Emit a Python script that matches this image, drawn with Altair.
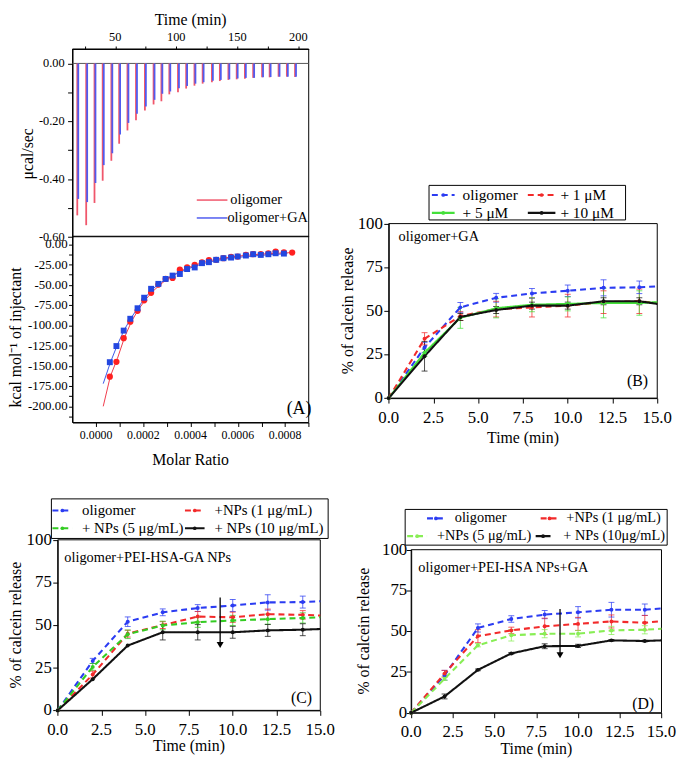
import altair as alt
import pandas as pd

FONT = "Liberation Serif"
W, H = 677, 750

# ---------------- Panel A (top): raw ITC heats ----------------
itc_series = ["oligomer", "oligomer+GA"]
itc_colors = ["#f0566b", "#4f5cf0"]
inj_time_olig = [18.9, 26.2, 33.0, 39.7, 46.8, 53.2, 60.0, 67.0, 74.3, 81.4, 87.8, 94.3, 101.4, 108.1,
                 114.9, 121.6, 129.2, 135.7, 142.7, 149.5, 156.2, 163.0, 170.3, 176.5, 183.8, 190.6, 197.3]
inj_peak_olig = [-0.526, -0.560, -0.483, -0.406, -0.337, -0.278, -0.232, -0.197, -0.163, -0.142, -0.131,
                 -0.107, -0.100, -0.087, -0.077, -0.070, -0.065, -0.061, -0.057, -0.055, -0.053, -0.050,
                 -0.048, -0.048, -0.046, -0.046, -0.047]
inj_time_ga = [19.7, 27.0, 33.8, 40.6, 47.6, 54.0, 60.8, 67.8, 75.1, 82.2, 88.6, 95.1, 102.2, 108.9,
               115.7, 122.4, 130.0, 136.5, 143.5, 150.3, 157.0, 163.8, 171.1, 177.3, 184.6, 191.4, 198.1]
inj_peak_ga = [-0.469, -0.480, -0.414, -0.352, -0.311, -0.246, -0.206, -0.174, -0.149, -0.126, -0.105,
               -0.097, -0.086, -0.078, -0.070, -0.065, -0.060, -0.057, -0.055, -0.052, -0.050, -0.050,
               -0.048, -0.047, -0.046, -0.046, -0.046]
atop_xdom = [15, 208.5]
atop_ydom = [-0.6, 0.05]
atop_xticks = [25, 50, 75, 100, 125, 150, 175, 200]
atop_yticks = [-0.6, -0.5, -0.4, -0.3, -0.2, -0.1, 0.0]
atop_xlabel_at = [50, 100, 150, 200]
atop_xlabels = ["50", "100", "150", "200"]
atop_ylabel_at = [0.0, -0.2, -0.4, -0.6]
atop_ylabels = ["0.00", "-0.20", "-0.40", "-0.60"]

# ---------------- Panel A (bottom): integrated heats ----------------
ratio_olig = [0.0000579, 0.0000859, 0.0001166, 0.0001446, 0.0001754, 0.0002034, 0.0002327, 0.0002635,
              0.0002943, 0.0003236, 0.0003544, 0.0003852, 0.0004173, 0.0004481, 0.0004775, 0.0005083,
              0.000539, 0.0005712, 0.0005992, 0.0006341, 0.0006649, 0.0006971, 0.0007292, 0.0007600,
              0.0007950, 0.0008300]
heat_olig = [-163.4, -145.1, -115.9, -95.5, -82.1, -69.1, -59.8, -49.6, -42.7, -41.5, -31.3, -28.5, -25.2,
             -22.4, -19.5, -19.1, -17.1, -15.4, -15.0, -13.0, -12.2, -12.2, -11.0, -8.9, -9.8, -10.2]
ratio_ga = [0.0000579, 0.0000859, 0.0001166, 0.0001446, 0.0001754, 0.0002034, 0.0002327, 0.0002635,
            0.0002943, 0.0003236, 0.0003544, 0.0003852, 0.0004173, 0.0004481, 0.0004775, 0.0005083,
            0.000539, 0.0005712, 0.0005992, 0.0006341, 0.0006649, 0.0006971, 0.0007292, 0.0007600,
            0.0007950]
heat_ga = [-145.5, -125.6, -106.5, -91.9, -78.9, -65.9, -54.9, -48.8, -42.7, -38.6, -36.6, -30.5, -28.5,
           -23.2, -22.0, -19.1, -17.1, -16.3, -15.0, -13.8, -12.2, -13.0, -12.2, -11.0, -11.4]
fit_ratio_olig = [0.00003, 0.00006, 0.00009, 0.00012, 0.00015, 0.00018, 0.00021, 0.00024, 0.00027,
                  0.0003, 0.00035, 0.0004, 0.00045, 0.0005, 0.00055, 0.0006, 0.0007, 0.00084]
fit_olig = [-200, -163, -141, -115, -95, -80, -68, -58, -50, -43, -34, -27.5, -22.5, -19, -16.5, -14.5,
            -12, -10]
fit_ratio_ga = [0.00003, 0.00006, 0.00009, 0.00012, 0.00015, 0.00018, 0.00021, 0.00024, 0.00027,
                0.0003, 0.00035, 0.0004, 0.00045, 0.0005, 0.00055, 0.0006, 0.0007, 0.00081]
fit_ga = [-172, -146, -124, -105, -90, -77, -65, -55, -48, -42, -35, -29, -24, -20.5, -18, -16, -13.5,
          -11.5]
abot_xdom = [-0.0001, 0.0009]
abot_ydom = [-220, 10]
abot_xticks = [0.0, 0.0001, 0.0002, 0.0003, 0.0004, 0.0005, 0.0006, 0.0007, 0.0008, 0.0009]
abot_yticks = [-212.5, -200, -187.5, -175, -162.5, -150, -137.5, -125, -112.5, -100, -87.5, -75,
               -62.5, -50, -37.5, -25, -12.5, 0]
abot_xlabel_at = [0.0, 0.0002, 0.0004, 0.0006, 0.0008]
abot_xlabels = ["0.0000", "0.0002", "0.0004", "0.0006", "0.0008"]
abot_ylabel_at = [0, -25, -50, -75, -100, -125, -150, -175, -200]
abot_ylabels = ["0.00", "-25.00", "-50.00", "-75.00", "-100.00", "-125.00", "-150.00", "-175.00",
                "-200.00"]

# ---------------- Panels B, C, D: calcein release ----------------
release_time = [0, 2, 4, 6, 8, 10, 12, 14, 15]
rel_xdom = [0, 15]
rel_ydom = [0, 100]
rel_xticks = [0, 2.5, 5, 7.5, 10, 12.5, 15]
rel_yticks = [0, 25, 50, 75, 100]
rel_xlabels = ["0.0", "2.5", "5.0", "7.5", "10.0", "12.5", "15.0"]
rel_ylabels = ["0", "25", "50", "75", "100"]

B_order = ["oligomer", "+ 1 μM", "+ 5 μM", "+ 10 μM"]
B_vals = {
    "oligomer": [0, 29, 52, 57.5, 60, 61.5, 63.2, 63.5, 64],
    "+ 1 μM": [0, 34, 47, 51, 52, 53, 55, 55.5, 54.5],
    "+ 5 μM": [0, 26, 46, 51.5, 53.5, 54, 54.5, 54.5, 55],
    "+ 10 μM": [0, 24, 46.5, 50.5, 53, 53, 55.5, 55.5, 54],
}
B_errs = {
    "oligomer": [0, 2.8, 2.8, 2.5, 2.8, 3.3, 4.6, 3.6, None],
    "+ 1 μM": [0, 3.5, 2.5, 4.5, 5.5, 6.5, 6.5, 7, None],
    "+ 5 μM": [0, 2, 6, 5.5, 4, 4, 8.5, 7, None],
    "+ 10 μM": [0, 8.5, 2, 2, 2, 2, 2, 2, None],
}
B_colors = ["#2b3cf2", "#f22a2a", "#44e03a", "#111111"]
B_dashes = [[6, 4], [6, 4], [1, 0], [1, 0]]

C_order = ["oligomer", "+NPs (1 μg/mL)", "+ NPs (5 μg/mL)", "+ NPs (10 μg/mL)"]
C_vals = {
    "oligomer": [0, 29, 52, 57.5, 60, 61.5, 63.3, 63.5, 64],
    "+NPs (1 μg/mL)": [0, 21, 45, 50, 55, 54.6, 56.4, 56, 55.6],
    "+ NPs (5 μg/mL)": [0, 25.5, 44.6, 49.8, 51.7, 52.7, 53.5, 54.2, 54.6],
    "+ NPs (10 μg/mL)": [0, 18.3, 38, 45.8, 45.8, 45.8, 46.9, 47.3, 47.7],
}
C_errs = {
    "oligomer": [0, 1.5, 2.8, 2, 2, 3.5, 4.5, 3.5, None],
    "+NPs (1 μg/mL)": [0, 2, 2, 2, 3, 3, 3, 2.5, None],
    "+ NPs (5 μg/mL)": [0, 2, 2.5, 2.5, 3, 3, 3, 3, None],
    "+ NPs (10 μg/mL)": [0, None, None, 4.5, 4.5, 3.5, 3.5, 3.5, None],
}
C_colors = ["#2b3cf2", "#f22a2a", "#33cc22", "#111111"]
C_dashes = [[6, 4], [6, 4], [6, 4], [1, 0]]

D_order = ["oligomer", "+NPs (1 μg/mL)", "+NPs (5 μg/mL)", "+ NPs (10μg/mL)"]
D_vals = {
    "oligomer": [0, 23, 52, 57.5, 60.2, 61.6, 63.2, 63.2, 64],
    "+NPs (1 μg/mL)": [0, 24, 47, 50.5, 53, 54.5, 56, 55.2, 56.2],
    "+NPs (5 μg/mL)": [0, 20.8, 41.4, 47.5, 48.5, 48.5, 50.5, 50.9, 51.5],
    "+ NPs (10μg/mL)": [0, 10, 26.3, 36.4, 40.8, 41, 44.4, 44, 44.4],
}
D_errs = {
    "oligomer": [0, 3, 2.5, 2, 2.5, 3.5, 4.5, 3.5, None],
    "+NPs (1 μg/mL)": [0, 2, 4, 2, 5, 4, 4, 4.5, None],
    "+NPs (5 μg/mL)": [0, 1, 1, 3.5, 2.5, 2, 2.5, 2.5, None],
    "+ NPs (10μg/mL)": [0, 1.5, 0.5, 0.5, 1.5, 1, 0.5, 0.5, None],
}
D_colors = ["#2b3cf2", "#f22a2a", "#88ee55", "#111111"]
D_dashes = [[6, 4], [6, 4], [6, 4], [1, 0]]

# ---------------- layout (pixel ranges of each plot frame, legend placement) ----------------
A_XR = (65.3, 304.3)
ATOP_YR = (227, 37)
ABOT_YR = (415, 226.5)
B_XR, B_YR = (385.3, 657), (390.3, 213.7)
C_XR, C_YR = (50.3, 316), (706.3, 533.7)
D_XR, D_YR = (408, 661.3), (708.7, 543.7)

# legend entries in each panel's data units: (line start, line end, row, label start)
B_leg = dict(box=(2.25, 13.23, 102.1, 121.9), x0=[2.41, 7.77, 2.41, 7.77], x1=[3.68, 9.31, 3.68, 9.31],
             y=[116.4, 116.4, 106.1, 106.1], xl=[4.12, 9.59, 4.12, 9.59], size=15.5)
C_leg = dict(box=(-0.36, 15.45, 100.8, 124.0), x0=[-0.30, 7.27, -0.30, 7.27], x1=[0.83, 8.39, 0.83, 8.39],
             y=[117.2, 117.2, 106.8, 106.8], xl=[1.39, 8.96, 1.39, 8.96], size=15)
D_leg = dict(box=(-0.36, 15.34, 102.8, 124.7), x0=[0.95, 7.76, -0.24, 7.46], x1=[2.01, 8.82, 0.95, 8.35],
             y=[119.2, 119.2, 108.3, 108.3], xl=[2.61, 9.30, 1.54, 9.12], size=14.5)
A_leg = dict(x0=[116.8, 116.8], x1=[141.9, 141.9], y=[-0.473, -0.535], xl=[144.3, 141.9], size=14.5)


def scale(dom, rng):
    return alt.Scale(domain=list(dom), range=list(rng), nice=False, zero=False)


def axis(orient, offset, values, tick=5):
    return alt.Axis(orient=orient, offset=offset, values=values, labels=False, labelExpr="''",
                    title=None, grid=False, tickSize=tick, domainColor="black", tickColor="black")


def frame(xs, ys, xdom, ydom, width=1):
    df = pd.DataFrame({"x0": [xdom[0]], "x1": [xdom[1]], "y0": [ydom[0]], "y1": [ydom[1]]})
    return alt.Chart(df).mark_rect(fillOpacity=0, stroke="black", strokeWidth=width).encode(
        x=alt.X("x0:Q", scale=xs, axis=None), x2="x1:Q",
        y=alt.Y("y0:Q", scale=ys, axis=None), y2="y1:Q")


def texts(xs, ys, xv, yv, labels, size, align="center", baseline="middle", dx=0, dy=0, angle=0):
    df = pd.DataFrame({"x": list(xv), "y": list(yv), "label": list(labels)})
    return alt.Chart(df).mark_text(align=align, baseline=baseline, fontSize=size, font=FONT,
                                   color="black", dx=dx, dy=dy, angle=angle).encode(
        x=alt.X("x:Q", scale=xs, axis=None), y=alt.Y("y:Q", scale=ys, axis=None), text="label:N")


units = []

# ---------------- Panel A top ----------------
xs_at = scale(atop_xdom, A_XR)
ys_at = scale(atop_ydom, ATOP_YR)
df_inj = pd.DataFrame({
    "series": [itc_series[0]] * len(inj_time_olig) + [itc_series[1]] * len(inj_time_ga),
    "t": inj_time_olig + inj_time_ga,
    "peak": inj_peak_olig + inj_peak_ga,
})
itc_cs = alt.Scale(domain=itc_series, range=itc_colors)
baseline = alt.Chart(pd.DataFrame({"x0": [atop_xdom[0]], "x1": [atop_xdom[1]], "y": [0.0]})).mark_rule(
    color="#555555", strokeWidth=1).encode(
    x=alt.X("x0:Q", scale=xs_at, axis=None), x2="x1:Q", y=alt.Y("y:Q", scale=ys_at, axis=None))
spikes = alt.Chart(df_inj).transform_calculate(base="0").mark_rule(strokeWidth=1.8).encode(
    x=alt.X("t:Q", scale=xs_at, axis=axis("top", -ATOP_YR[1], atop_xticks, 3)),
    y=alt.Y("base:Q", scale=ys_at, axis=axis("left", -A_XR[0], atop_yticks, 5)),
    y2="peak:Q",
    color=alt.Color("series:N", scale=itc_cs, legend=None),
)
a_leg_df = pd.DataFrame({"series": itc_series, "x0": A_leg["x0"], "x1": A_leg["x1"], "y": A_leg["y"],
                         "xl": A_leg["xl"]})
a_leg_lines = alt.Chart(a_leg_df).mark_rule(strokeWidth=1.5).encode(
    x=alt.X("x0:Q", scale=xs_at, axis=None), x2="x1:Q", y=alt.Y("y:Q", scale=ys_at, axis=None),
    color=alt.Color("series:N", scale=itc_cs, legend=None))
units += [frame(xs_at, ys_at, atop_xdom, atop_ydom), baseline, spikes, a_leg_lines,
          texts(xs_at, ys_at, A_leg["xl"], A_leg["y"], itc_series, A_leg["size"], align="left"),
          texts(xs_at, ys_at, atop_xlabel_at, [atop_ydom[1]] * 4, atop_xlabels, 12.5, dy=-12),
          texts(xs_at, ys_at, [sum(atop_xdom) / 2], [atop_ydom[1]], ["Time (min)"], 16,
                baseline="top", dy=-37),
          texts(xs_at, ys_at, [atop_xdom[0]] * 4, atop_ylabel_at, atop_ylabels, 12.5, align="right",
                dx=-8),
          texts(xs_at, ys_at, [-21.4], [-0.313], ["μcal/sec"], 16, angle=270)]

# ---------------- Panel A bottom ----------------
xs_ab = scale(abot_xdom, A_XR)
ys_ab = scale(abot_ydom, ABOT_YR)
XA = alt.X("r:Q", scale=xs_ab, axis=None)
YA = alt.Y("h:Q", scale=ys_ab, axis=None)
fit_o = alt.Chart(pd.DataFrame({"r": fit_ratio_olig, "h": fit_olig})).mark_line(
    color="#f03a4a", strokeWidth=1).encode(
    x=alt.X("r:Q", scale=xs_ab, axis=axis("bottom", ABOT_YR[0] - H, abot_xticks, 4)),
    y=alt.Y("h:Q", scale=ys_ab, axis=axis("left", -A_XR[0], abot_yticks, 4)),
)
fit_g = alt.Chart(pd.DataFrame({"r": fit_ratio_ga, "h": fit_ga})).mark_line(
    color="#3a55e8", strokeWidth=1).encode(x=XA, y=YA)
pts_o = alt.Chart(pd.DataFrame({"r": ratio_olig, "h": heat_olig})).mark_point(
    shape="circle", filled=True, size=40, opacity=1, color="#ff2020").encode(x=XA, y=YA)
pts_g = alt.Chart(pd.DataFrame({"r": ratio_ga, "h": heat_ga})).mark_point(
    shape="square", filled=True, size=36, opacity=1, color="#2347e0").encode(x=XA, y=YA)
units += [frame(xs_ab, ys_ab, abot_xdom, abot_ydom), fit_o, fit_g, pts_o, pts_g,
          texts(xs_ab, ys_ab, [0.000859], [-202.8], ["(A)"], 18),
          texts(xs_ab, ys_ab, abot_xlabel_at, [abot_ydom[0]] * 5, abot_xlabels, 12,
                baseline="top", dy=8),
          texts(xs_ab, ys_ab, [sum(abot_xdom) / 2], [abot_ydom[0]], ["Molar Ratio"], 16,
                baseline="top", dy=30),
          texts(xs_ab, ys_ab, [abot_xdom[0]] * 9, abot_ylabel_at, abot_ylabels, 13, align="right",
                dx=-5),
          texts(xs_ab, ys_ab, [-0.000338], [-115], ["kcal mol⁻¹ of injectant"], 16, angle=270)]


# ---------------- release panels ----------------
def release_panel(order, vals, errs, colors, dashes, xr, yr, leg, caption, cap_at, letter, letter_at,
                  lab_dx, lab_dy, title_dy, ytitle_x, arrow=None):
    rows = []
    for s in order:
        for t, v, e in zip(release_time, vals[s], errs[s]):
            rows.append({"series": s, "t": t, "v": v, "e": e})
    df = pd.DataFrame(rows)
    xs = scale(rel_xdom, xr)
    ys = scale(rel_ydom, yr)
    cscale = alt.Scale(domain=order, range=colors)
    dscale = alt.Scale(domain=order, range=dashes)
    color = alt.Color("series:N", scale=cscale, legend=None)
    dash = alt.StrokeDash("series:N", scale=dscale, legend=None)
    X = alt.X("t:Q", scale=xs, axis=None)
    base = alt.Chart(df)
    lines = base.mark_line(strokeWidth=2.1).encode(
        x=alt.X("t:Q", scale=xs, axis=axis("bottom", yr[0] - H, rel_xticks, 5)),
        y=alt.Y("v:Q", scale=ys, axis=axis("left", -xr[0], rel_yticks, 5)),
        color=color, strokeDash=dash, order="t:Q")
    err = base.transform_filter("isValid(datum.e) && datum.e > 0").transform_calculate(
        lo="datum.v - datum.e", hi="datum.v + datum.e")
    bars = err.mark_rule(strokeWidth=1, opacity=0.75).encode(
        x=X, y=alt.Y("lo:Q", scale=ys, axis=None), y2="hi:Q", color=color)
    cap_lo = err.mark_tick(orient="horizontal", size=6, thickness=1, opacity=0.75).encode(
        x=X, y=alt.Y("lo:Q", scale=ys, axis=None), color=color)
    cap_hi = err.mark_tick(orient="horizontal", size=6, thickness=1, opacity=0.75).encode(
        x=X, y=alt.Y("hi:Q", scale=ys, axis=None), color=color)
    marks = base.transform_filter("datum.t < 15").mark_point(filled=True, size=16, opacity=1).encode(
        x=X, y=alt.Y("v:Q", scale=ys, axis=None), color=color)
    # legend
    ldf = pd.DataFrame({"series": order, "x0": leg["x0"], "x1": leg["x1"], "y": leg["y"]})
    lbox = leg["box"]
    leg_lines = alt.Chart(ldf).mark_rule(strokeWidth=2.2).encode(
        x=alt.X("x0:Q", scale=xs, axis=None), x2="x1:Q", y=alt.Y("y:Q", scale=ys, axis=None),
        color=color, strokeDash=dash)
    leg_pts = alt.Chart(ldf).transform_calculate(xm="(datum.x0 + datum.x1) / 2").mark_point(
        filled=True, size=14, opacity=1).encode(
        x=alt.X("xm:Q", scale=xs, axis=None), y=alt.Y("y:Q", scale=ys, axis=None), color=color)
    layers = [frame(xs, ys, rel_xdom, rel_ydom), bars, cap_lo, cap_hi, lines, marks,
              texts(xs, ys, [cap_at[0]], [cap_at[1]], [caption], 14.5, align="left"),
              texts(xs, ys, [letter_at[0]], [letter_at[1]], [letter], 16),
              frame(xs, ys, lbox[0:2], lbox[2:4]), leg_lines, leg_pts,
              texts(xs, ys, leg["xl"], leg["y"], order, leg["size"], align="left"),
              texts(xs, ys, rel_xticks, [rel_ydom[0]] * 7, rel_xlabels, 17, baseline="top", dy=lab_dy),
              texts(xs, ys, [rel_xdom[0]] * 5, rel_yticks, rel_ylabels, 17, align="right", dx=lab_dx),
              texts(xs, ys, [sum(rel_xdom) / 2], [rel_ydom[0]], ["Time (min)"], 16, baseline="top",
                    dy=title_dy),
              texts(xs, ys, [ytitle_x], [50], ["% of calcein release"], 16, angle=270)]
    if arrow is not None:
        adf = pd.DataFrame({"x": [arrow[0]], "y0": [arrow[1]], "y1": [arrow[2]], "tip": [arrow[3]]})
        layers.append(alt.Chart(adf).mark_rule(color="black", strokeWidth=1.3).encode(
            x=alt.X("x:Q", scale=xs, axis=None), y=alt.Y("y0:Q", scale=ys, axis=None), y2="y1:Q"))
        layers.append(alt.Chart(adf).mark_point(shape="triangle-down", filled=True, size=50,
                                                color="black", opacity=1).encode(
            x=alt.X("x:Q", scale=xs, axis=None), y=alt.Y("tip:Q", scale=ys, axis=None)))
    return layers


units += release_panel(B_order, B_vals, B_errs, B_colors, B_dashes, B_XR, B_YR, B_leg,
                       "oligomer+GA", (0.55, 92.5), "(B)", (13.9, 9.8), -6, 12.5, 32.5, -2.3)
units += release_panel(C_order, C_vals, C_errs, C_colors, C_dashes, C_XR, C_YR, C_leg,
                       "oligomer+PEI-HSA-GA NPs", (0.38, 89.3), "(C)", (13.93, 7.3), -6, 11.8, 28.5,
                       -2.36, arrow=(9.28, 66.2, 39.5, 38.3))
units += release_panel(D_order, D_vals, D_errs, D_colors, D_dashes, D_XR, D_YR, D_leg,
                       "oligomer+PEI-HSA NPs+GA", (0.43, 88.9), "(D)", (13.9, 5.1), -4, 11.1, 28.5,
                       -2.82, arrow=(8.92, 63.6, 36.5, 35.3))

chart = alt.layer(*units).resolve_scale(
    x="independent", y="independent", color="independent", strokeDash="independent"
).properties(
    width=W, height=H, padding=0, autosize=alt.AutoSizeParams(type="none")
).configure_view(stroke=None).configure_axis(
    grid=False, domainColor="black", tickColor="black", domainWidth=1, tickWidth=1
).configure_text(font=FONT)

chart.save("out.html", embed_options={"renderer": "svg", "actions": False})
